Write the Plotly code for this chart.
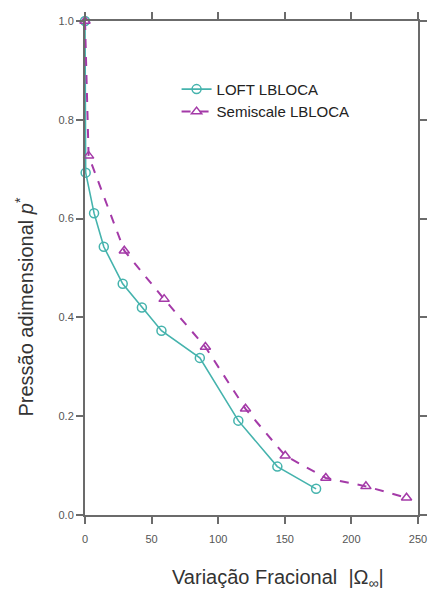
import plotly.graph_objects as go

loft_x = [0, 0.5, 6.8, 14.1, 28.3, 42.7, 57.4, 86.2, 115.1, 144.4, 173.5]
loft_y = [1.0, 0.693, 0.611, 0.543, 0.468, 0.420, 0.373, 0.318, 0.191, 0.098, 0.053]

semi_x = [0, 2.7, 29.5, 59.4, 90.4, 120.5, 150.3, 180.8, 210.9, 241.4]
semi_y = [1.0, 0.727, 0.535, 0.437, 0.340, 0.215, 0.120, 0.075, 0.058, 0.035]

x_ticks = [0, 50, 100, 150, 200, 250]
y_ticks = [0.0, 0.2, 0.4, 0.6, 0.8, 1.0]

x_title = "Variação Fracional  |Ω<sub>∞</sub>|"
y_title = "Pressão adimensional <i>p</i><sup>*</sup>"

teal = "#45b3ad"
purple = "#a43aa8"

fig = go.Figure()
fig.add_trace(go.Scatter(
    x=loft_x, y=loft_y, mode="lines+markers", name="LOFT LBLOCA",
    line=dict(color=teal, width=1.6),
    marker=dict(symbol="circle-open", size=9, color=teal, line=dict(width=1.5, color=teal)),
    cliponaxis=False,
))
fig.add_trace(go.Scatter(
    x=semi_x, y=semi_y, mode="lines+markers", name="Semiscale LBLOCA",
    line=dict(color=purple, width=2, dash="dash"),
    marker=dict(symbol="triangle-up-open", size=9, color=purple, line=dict(width=1.5, color=purple)),
    cliponaxis=False,
))

axis_common = dict(
    showline=True, linecolor="#6b6b6b", linewidth=2, mirror="allticks",
    ticks="outside", ticklen=7, tickwidth=2, tickcolor="#6b6b6b",
    showgrid=False, zeroline=False,
    tickfont=dict(family="Arial, Liberation Sans", size=11, color="#555555"),
)

title_font = dict(family="Arial, Liberation Sans", size=20, color="#333333")

fig.update_layout(
    width=439, height=599,
    margin=dict(l=85, r=12, t=15, b=84),
    paper_bgcolor="white", plot_bgcolor="white",
    xaxis=dict(range=[0, 250], tickvals=x_ticks, ticktext=[str(v) for v in x_ticks],
               ticklabelstandoff=6, **axis_common),
    yaxis=dict(range=[0, 1.0], tickvals=y_ticks, ticktext=[f"{v:.1f}" for v in y_ticks],
               **axis_common),
    legend=dict(x=0.275, y=0.895, xanchor="left", yanchor="top",
                bgcolor="rgba(0,0,0,0)", font=dict(family="Arial, Liberation Sans", size=15, color="#222222"),
                tracegroupgap=0, itemwidth=30),
    showlegend=True,
    annotations=[
        dict(text=x_title, xref="paper", yref="paper", x=0.58, y=-0.128,
             xanchor="center", yanchor="middle", showarrow=False, font=title_font),
        dict(text=y_title, xref="paper", yref="paper", x=-0.183, y=0.42,
             xanchor="center", yanchor="middle", showarrow=False, textangle=-90, font=title_font),
    ],
)

fig.write_html("out.html")
